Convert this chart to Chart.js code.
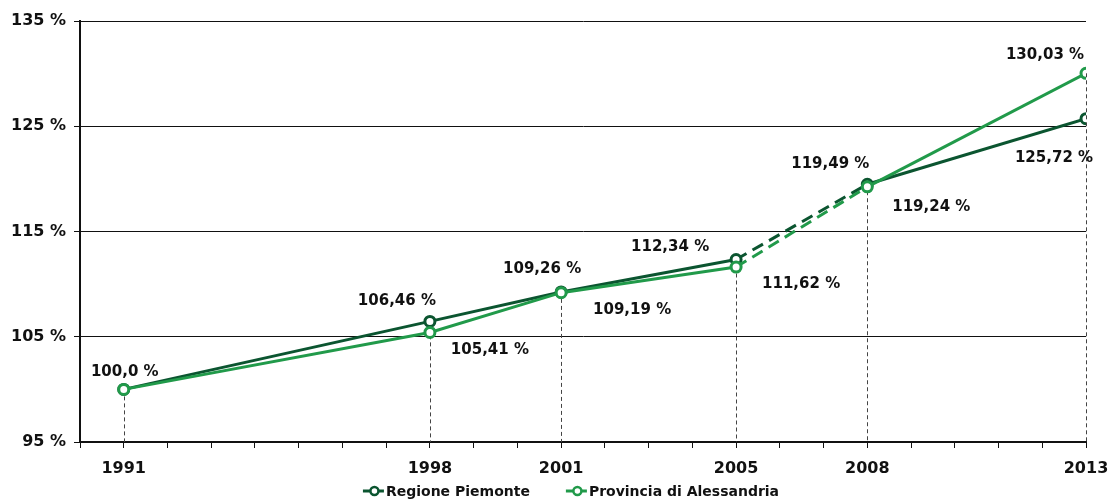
<!DOCTYPE html>
<html>
<head>
<meta charset="utf-8">
<script src="https://cdn.jsdelivr.net/npm/chart.js@4/dist/chart.umd.min.js"></script>
<style>
  body { margin: 0; background: #fff; }
  #wrap { width: 1110px; height: 501px; }
</style>
</head>
<body>
<div id="wrap"><canvas id="myLineChart"></canvas></div>
<script>
// ---------- dati ----------
const years = [1991, 1998, 2001, 2005, 2008, 2013];
const piemonte = [100.0, 106.46, 109.26, 112.34, 119.49, 125.72];
const alessandria = [100.0, 105.41, 109.19, 111.62, 119.24, 130.03];
const yTicks = [95, 105, 115, 125, 135];

// ---------- stile ----------
const darkGreen = '#0b5530';
const lightGreen = '#219a4a';
const fontFamily = '"DejaVu Sans", sans-serif';

// posizione delle etichette rispetto al punto [dx, dy], null = nessuna etichetta
const piemonteLabelPos = [[1, -17], [-33, -20], [-19, -23], [-66, -12], [-37, -20], [-32, 39]];
const alessandriaLabelPos = [null, [60, 18], [71, 17], [65, 17], [64, 20], [-41, -18]];

function fmt(v) {
  return v === 100 ? '100,0' : v.toFixed(2).replace('.', ',');
}

// linee tratteggiate verticali dal punto più alto all'asse
const dropLines = {
  id: 'dropLines',
  beforeDatasetsDraw(chart) {
    const { ctx, chartArea, scales } = chart;
    ctx.save();
    ctx.strokeStyle = '#444';
    ctx.lineWidth = 1;
    ctx.setLineDash([4, 3]);
    years.forEach((yr, i) => {
      const top = Math.max(piemonte[i], alessandria[i]);
      const x = Math.round(scales.x.getPixelForValue(yr)) + 0.5;
      ctx.beginPath();
      ctx.moveTo(x, scales.y.getPixelForValue(top));
      ctx.lineTo(x, chartArea.bottom);
      ctx.stroke();
    });
    ctx.restore();
  },
};

// etichette dei valori
const valueLabels = {
  id: 'valueLabels',
  afterDatasetsDraw(chart) {
    const { ctx } = chart;
    ctx.save();
    ctx.font = 'bold 15px ' + fontFamily;
    ctx.fillStyle = '#111';
    ctx.textAlign = 'center';
    ctx.textBaseline = 'middle';
    const sets = [
      [piemonte, piemonteLabelPos, 0],
      [alessandria, alessandriaLabelPos, 1],
    ];
    sets.forEach(([values, pos, di]) => {
      const meta = chart.getDatasetMeta(di);
      values.forEach((v, i) => {
        if (!pos[i]) return;
        const pt = meta.data[i];
        ctx.fillText(fmt(v) + ' %', pt.x + pos[i][0], pt.y + pos[i][1]);
      });
    });
    ctx.restore();
  },
};

// legenda disegnata a mano: linea con cerchio + testo
const lineLegend = {
  id: 'lineLegend',
  afterDraw(chart) {
    const { ctx } = chart;
    const y = 491;
    const iconW = 21;
    const gap = 2;
    const spacing = 36;
    ctx.save();
    ctx.font = 'bold 14px ' + fontFamily;
    ctx.textBaseline = 'middle';
    ctx.textAlign = 'left';
    const items = chart.data.datasets.map((ds) => ({
      text: ds.label,
      color: ds.borderColor,
      w: iconW + gap + ctx.measureText(ds.label).width,
    }));
    const total = items.reduce((s, it) => s + it.w, 0) + spacing * (items.length - 1);
    let x = 571 - total / 2;
    items.forEach((it) => {
      ctx.strokeStyle = it.color;
      ctx.lineWidth = 3;
      ctx.beginPath();
      ctx.moveTo(x, y);
      ctx.lineTo(x + iconW, y);
      ctx.stroke();
      ctx.beginPath();
      ctx.arc(x + iconW / 2 + 1, y, 4, 0, Math.PI * 2);
      ctx.fillStyle = '#fff';
      ctx.fill();
      ctx.lineWidth = 2.5;
      ctx.stroke();
      ctx.fillStyle = '#111';
      ctx.fillText(it.text, x + iconW + gap, y + 1);
      x += it.w + spacing;
    });
    ctx.restore();
  },
};

const dashSeg = (c) => (c.p0DataIndex === 3 ? [12, 7] : undefined);

const data = {
  datasets: [
    {
      label: 'Regione Piemonte',
      data: years.map((y, i) => ({ x: y, y: piemonte[i] })),
      borderColor: darkGreen,
      pointBorderColor: darkGreen,
      segment: { borderDash: dashSeg },
      order: 1,
    },
    {
      label: 'Provincia di Alessandria',
      data: years.map((y, i) => ({ x: y, y: alessandria[i] })),
      borderColor: lightGreen,
      pointBorderColor: lightGreen,
      segment: { borderDash: dashSeg },
      order: 0,
    },
  ],
};

data.datasets.forEach((ds) => {
  ds.borderWidth = 3;
  ds.tension = 0;
  ds.pointStyle = 'circle';
  ds.pointRadius = 5;
  ds.pointBorderWidth = 3;
  ds.pointBackgroundColor = '#fff';
});

const config = {
  type: 'line',
  data: data,
  options: {
    responsive: true,
    maintainAspectRatio: false,
    animation: false,
    layout: { padding: { top: 21, right: 24, left: 0, bottom: 25 } },
    plugins: {
      legend: { display: false },
      title: { display: false },
      tooltip: { enabled: false },
    },
    scales: {
      x: {
        type: 'linear',
        min: 1990,
        max: 2013,
        afterBuildTicks(scale) {
          const t = [];
          for (let y = 1990; y <= 2013; y += 1) t.push({ value: y });
          scale.ticks = t;
        },
        afterFit(scale) {
          scale.height = 34;
          scale.paddingLeft = 0;
          scale.paddingRight = 0;
        },
        ticks: {
          autoSkip: false,
          maxRotation: 0,
          padding: 11,
          color: '#111',
          font: { family: fontFamily, size: 16, weight: 'bold' },
          callback: (v) => (years.includes(v) ? String(v) : ''),
        },
        grid: {
          drawOnChartArea: false,
          drawTicks: true,
          tickLength: 6,
          color: '#111',
        },
        border: { color: '#111', width: 2 },
      },
      y: {
        min: 95,
        max: 135,
        afterBuildTicks(scale) {
          scale.ticks = yTicks.map((v) => ({ value: v }));
        },
        afterFit(scale) {
          scale.width = 80;
        },
        ticks: {
          padding: 8,
          color: '#111',
          font: { family: fontFamily, size: 16, weight: 'bold' },
          callback: (v) => v + ' %',
        },
        grid: {
          color: '#111',
          lineWidth: 1,
          tickLength: 6,
        },
        border: { color: '#111', width: 2 },
      },
    },
  },
  plugins: [dropLines, valueLabels, lineLegend],
};

const myChart = new Chart(document.getElementById('myLineChart'), config);
</script>
</body>
</html>
